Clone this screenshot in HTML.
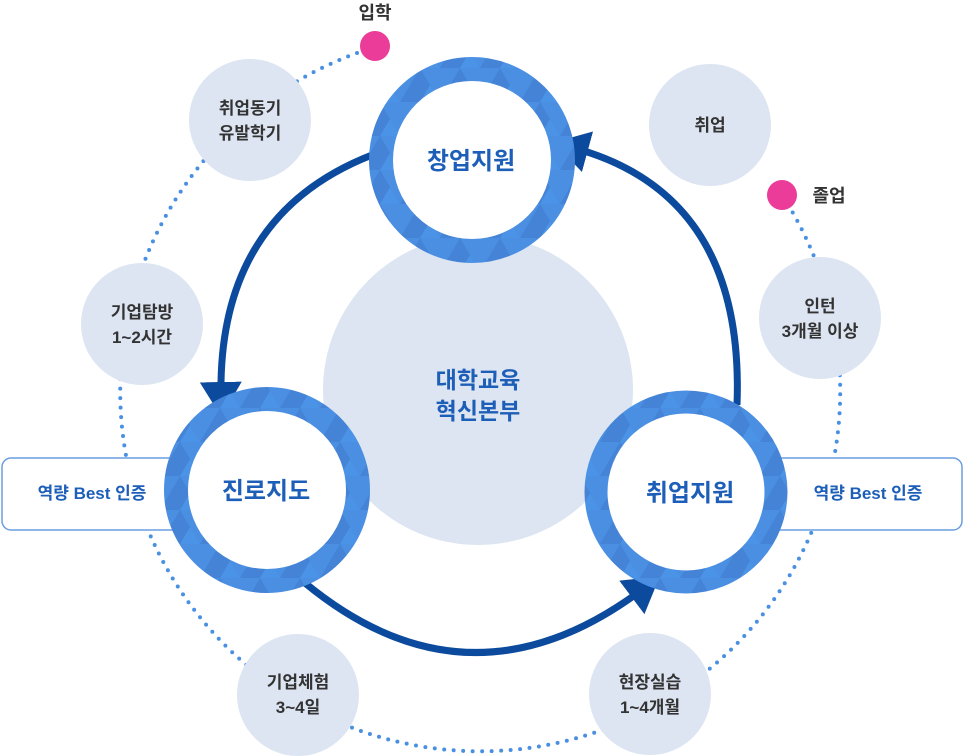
<!DOCTYPE html>
<html><head><meta charset="utf-8"><style>
body{margin:0;background:#fff;}
svg{display:block}
text{font-family:"Liberation Sans","Noto Sans CJK KR",sans-serif;}
</style></head><body>
<svg width="963" height="756" viewBox="0 0 963 756" xmlns="http://www.w3.org/2000/svg">
<defs>
<pattern id="tri" width="40" height="34" patternUnits="userSpaceOnUse">
<rect width="40" height="34" fill="#4a8fe2"/>
<polygon points="0,34 20,0 40,34" fill="#4483d6"/>
<polygon points="20,34 30,17 40,34" fill="#4b93e6"/>
</pattern>
<marker id="ah" markerWidth="6" markerHeight="6" refX="2" refY="3" orient="auto" markerUnits="strokeWidth">
<polygon points="0,0 5,3 0,6" fill="#0b4a9c"/>
</marker>
</defs>

<path d="M375,47 A360,360 0 1 0 782,195" fill="none" stroke="#4a90e2" stroke-width="4" stroke-linecap="round" stroke-dasharray="0 9.5"/>

<rect x="2" y="458" width="200" height="72" rx="9" fill="#fff" stroke="#6a9ee0" stroke-width="1.5"/>
<rect x="762" y="458" width="200" height="72" rx="9" fill="#fff" stroke="#6a9ee0" stroke-width="1.5"/>
<text x="92" y="499" font-size="17" font-weight="bold" fill="#1d5fb8" text-anchor="middle">역량 Best 인증</text>
<text x="868" y="499" font-size="17" font-weight="bold" fill="#1d5fb8" text-anchor="middle">역량 Best 인증</text>

<circle cx="478" cy="390" r="155" fill="#dce5f1"/>
<text x="478" y="388" font-size="23" font-weight="bold" fill="#1d5fb8" text-anchor="middle">대학교육</text>
<text x="478" y="419" font-size="23" font-weight="bold" fill="#1d5fb8" text-anchor="middle">혁신본부</text>

<g fill="#dce5f1">
<circle cx="250" cy="120" r="61"/>
<circle cx="142" cy="324" r="61"/>
<circle cx="298" cy="695" r="61"/>
<circle cx="650" cy="694" r="61"/>
<circle cx="820" cy="318" r="61"/>
<circle cx="710" cy="125" r="61"/>
</g>
<g font-size="17" font-weight="bold" fill="#333" text-anchor="middle">
<text x="250" y="114">취업동기</text><text x="250" y="139">유발학기</text>
<text x="142" y="318">기업탐방</text><text x="142" y="343">1~2시간</text>
<text x="298" y="688">기업체험</text><text x="298" y="713">3~4일</text>
<text x="650" y="688">현장실습</text><text x="650" y="713">1~4개월</text>
<text x="820" y="312">인턴</text><text x="820" y="337">3개월 이상</text>
<text x="710" y="131">취업</text>
</g>

<circle cx="375" cy="46" r="15" fill="#ea3c98"/>
<circle cx="782" cy="195" r="15" fill="#ea3c98"/>
<text x="375" y="19" font-size="18" font-weight="bold" fill="#333" text-anchor="middle">입학</text>
<text x="829" y="202" font-size="18" font-weight="bold" fill="#333" text-anchor="middle">졸업</text>

<g fill="none" stroke="#0b4a9c" stroke-width="7" marker-end="url(#ah)">
<path d="M372,155 Q218,215 221,396"/>
<path d="M737,405 Q745,195 574,148"/>
<path d="M305,583 Q470,719 643,589"/>
</g>

<g>
<circle cx="472" cy="160" r="91" fill="#fff" stroke="url(#tri)" stroke-width="24"/>
<circle cx="267" cy="490" r="91" fill="#fff" stroke="url(#tri)" stroke-width="24"/>
<circle cx="686" cy="492" r="90" fill="#fff" stroke="url(#tri)" stroke-width="23"/>
</g>
<g font-size="24" font-weight="bold" fill="#1d5fb8" text-anchor="middle">
<text x="471" y="169">창업지원</text>
<text x="266" y="499">진로지도</text>
<text x="690" y="501">취업지원</text>
</g>
</svg>
</body></html>
